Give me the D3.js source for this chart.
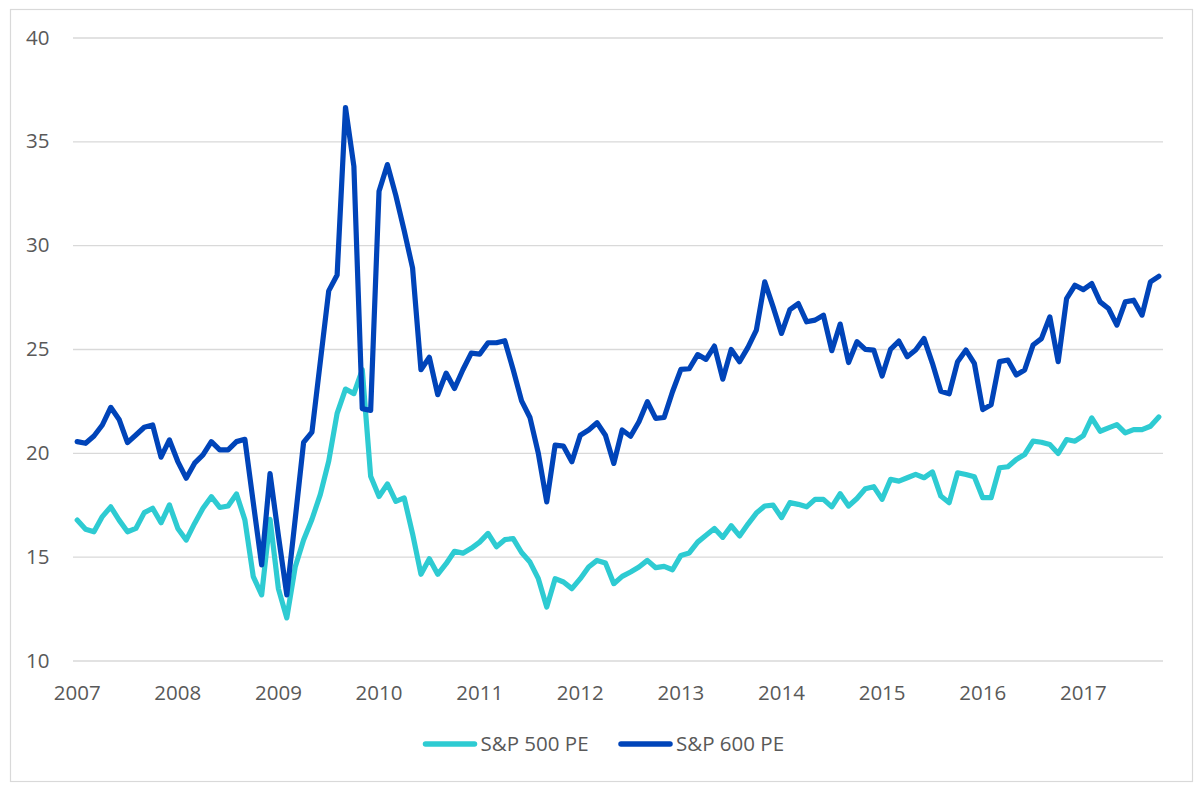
<!DOCTYPE html>
<html>
<head>
<meta charset="utf-8">
<script src="https://cdn.jsdelivr.net/npm/d3@7"></script>
<style>
  html, body { margin: 0; padding: 0; background: #ffffff; }
  svg { display: block; }
  text { font-family: "Open Sans", "Noto Sans", sans-serif; fill: #595959; }
</style>
</head>
<body>
<svg id="chart" width="1200" height="789"></svg>
<script>
// ---- data ----
const yearLabels = ["2007","2008","2009","2010","2011","2012","2013","2014","2015","2016","2017"];
const yTicks = [10, 15, 20, 25, 30, 35, 40];
const seriesNames = ["S&P 500 PE", "S&P 600 PE"];
// monthly, Jan 2007 .. Oct 2017
const sp500 = [
  16.76,16.32,16.20,16.93,17.40,16.76,16.20,16.36,17.12,17.33,16.63,17.49,
  16.36,15.80,16.60,17.33,17.89,17.37,17.44,18.02,16.77,14.04,13.16,16.80,
  13.45,12.05,14.50,15.80,16.80,18.00,19.60,21.90,23.07,22.85,24.00,18.87,
  17.90,18.50,17.66,17.83,16.10,14.15,14.90,14.15,14.66,15.26,15.17,15.40,
  15.70,16.12,15.48,15.82,15.87,15.20,14.74,13.94,12.57,13.94,13.78,13.46,
  13.94,14.50,14.82,14.70,13.70,14.05,14.26,14.50,14.82,14.47,14.53,14.37,
  15.06,15.18,15.70,16.03,16.36,15.93,16.49,16.00,16.57,17.10,17.44,17.48,
  16.88,17.60,17.52,17.40,17.76,17.76,17.40,18.03,17.44,17.80,18.27,18.37,
  17.76,18.72,18.64,18.80,18.96,18.80,19.08,17.92,17.60,19.04,18.96,18.85,
  17.84,17.84,19.28,19.33,19.68,19.92,20.56,20.51,20.40,19.97,20.64,20.56,
  20.83,21.68,21.04,21.20,21.36,20.96,21.12,21.12,21.28,21.73
];
const sp600 = [
  20.54,20.46,20.81,21.34,22.19,21.61,20.49,20.86,21.23,21.34,19.79,20.62,
  19.58,18.78,19.50,19.90,20.54,20.14,20.14,20.54,20.65,17.60,14.60,19.00,
  16.00,13.16,16.80,20.50,21.00,24.40,27.80,28.56,36.63,33.80,22.13,22.04,
  32.60,33.88,32.40,30.70,28.90,24.00,24.60,22.80,23.84,23.10,24.00,24.80,
  24.75,25.30,25.30,25.40,24.00,22.50,21.70,19.97,17.64,20.37,20.32,19.57,
  20.85,21.10,21.45,20.85,19.49,21.10,20.80,21.50,22.46,21.66,21.70,22.94,
  24.02,24.05,24.73,24.50,25.14,23.55,24.98,24.39,25.08,25.91,28.23,27.03,
  25.75,26.90,27.19,26.31,26.39,26.63,24.92,26.20,24.35,25.35,24.98,24.95,
  23.70,24.98,25.38,24.63,24.95,25.50,24.31,22.96,22.84,24.39,24.95,24.31,
  22.08,22.32,24.39,24.47,23.75,23.99,25.19,25.50,26.55,24.39,27.43,28.07,
  27.86,28.15,27.27,26.95,26.15,27.27,27.35,26.63,28.23,28.50
];
const months = d3.timeMonth.range(new Date(2007, 0, 1), new Date(2017, 10, 1));

// ---- layout ----
const colors = ["#2ECBD2", "#0044B9"];
const fontSize = "20.5px";
const svg = d3.select("#chart");
const plot = { left: 73, right: 1163, top: 37.5, bottom: 660.5 };

svg.append("rect")
  .attr("x", 10.5).attr("y", 9.5).attr("width", 1182).attr("height", 772)
  .attr("fill", "#ffffff").attr("stroke", "#d9d9d9").attr("stroke-width", 1.2);

const x = d3.scaleBand().domain(months).range([plot.left, plot.right]).padding(0);
const cx = d => x(d) + x.bandwidth() / 2;
const y = d3.scaleLinear().domain([10, 40]).range([plot.bottom, plot.top]);

// gridlines
const grid = svg.append("g").attr("transform", `translate(${plot.left},0)`)
  .call(d3.axisLeft(y).tickValues(yTicks).tickSize(-(plot.right - plot.left)).tickFormat(""));
grid.select(".domain").remove();
grid.selectAll("line").attr("stroke", "#d9d9d9").attr("stroke-width", 1.3);

// y labels
const yAxis = svg.append("g").attr("transform", `translate(49.5,0)`)
  .call(d3.axisLeft(y).tickValues(yTicks).tickSize(0).tickPadding(0));
yAxis.select(".domain").remove();
yAxis.selectAll("text").attr("font-size", fontSize).attr("fill", "#595959")
  .style("font-family", '"Open Sans", "Noto Sans", sans-serif');

// x labels
const yearStarts = months.filter(m => m.getMonth() === 0);
const xAxis = svg.append("g").attr("transform", `translate(0,${plot.bottom})`)
  .call(d3.axisBottom(x).tickValues(yearStarts).tickSize(0).tickPadding(25)
    .tickFormat((d, i) => yearLabels[i]));
xAxis.select(".domain").remove();
xAxis.selectAll("text").attr("font-size", fontSize).attr("fill", "#595959")
  .style("font-family", '"Open Sans", "Noto Sans", sans-serif');

// lines
const line = d3.line().x((d, i) => cx(months[i])).y(d => y(d));
[sp500, sp600].forEach((s, k) => {
  svg.append("path").datum(s)
    .attr("d", line)
    .attr("fill", "none")
    .attr("stroke", colors[k])
    .attr("stroke-width", 5.2)
    .attr("stroke-linejoin", "round")
    .attr("stroke-linecap", "round");
});

// legend
const legendItems = [{ x: 425.5 }, { x: 621 }];
legendItems.forEach((it, k) => {
  const g = svg.append("g").attr("transform", `translate(${it.x},744)`);
  g.append("line").attr("x1", 0).attr("x2", 49).attr("y1", 0).attr("y2", 0)
    .attr("stroke", colors[k]).attr("stroke-width", 5.5).attr("stroke-linecap", "round");
  g.append("text").attr("x", 55).attr("y", 0).attr("dy", "0.35em")
    .attr("font-size", fontSize).text(seriesNames[k]);
});
</script>
</body>
</html>
